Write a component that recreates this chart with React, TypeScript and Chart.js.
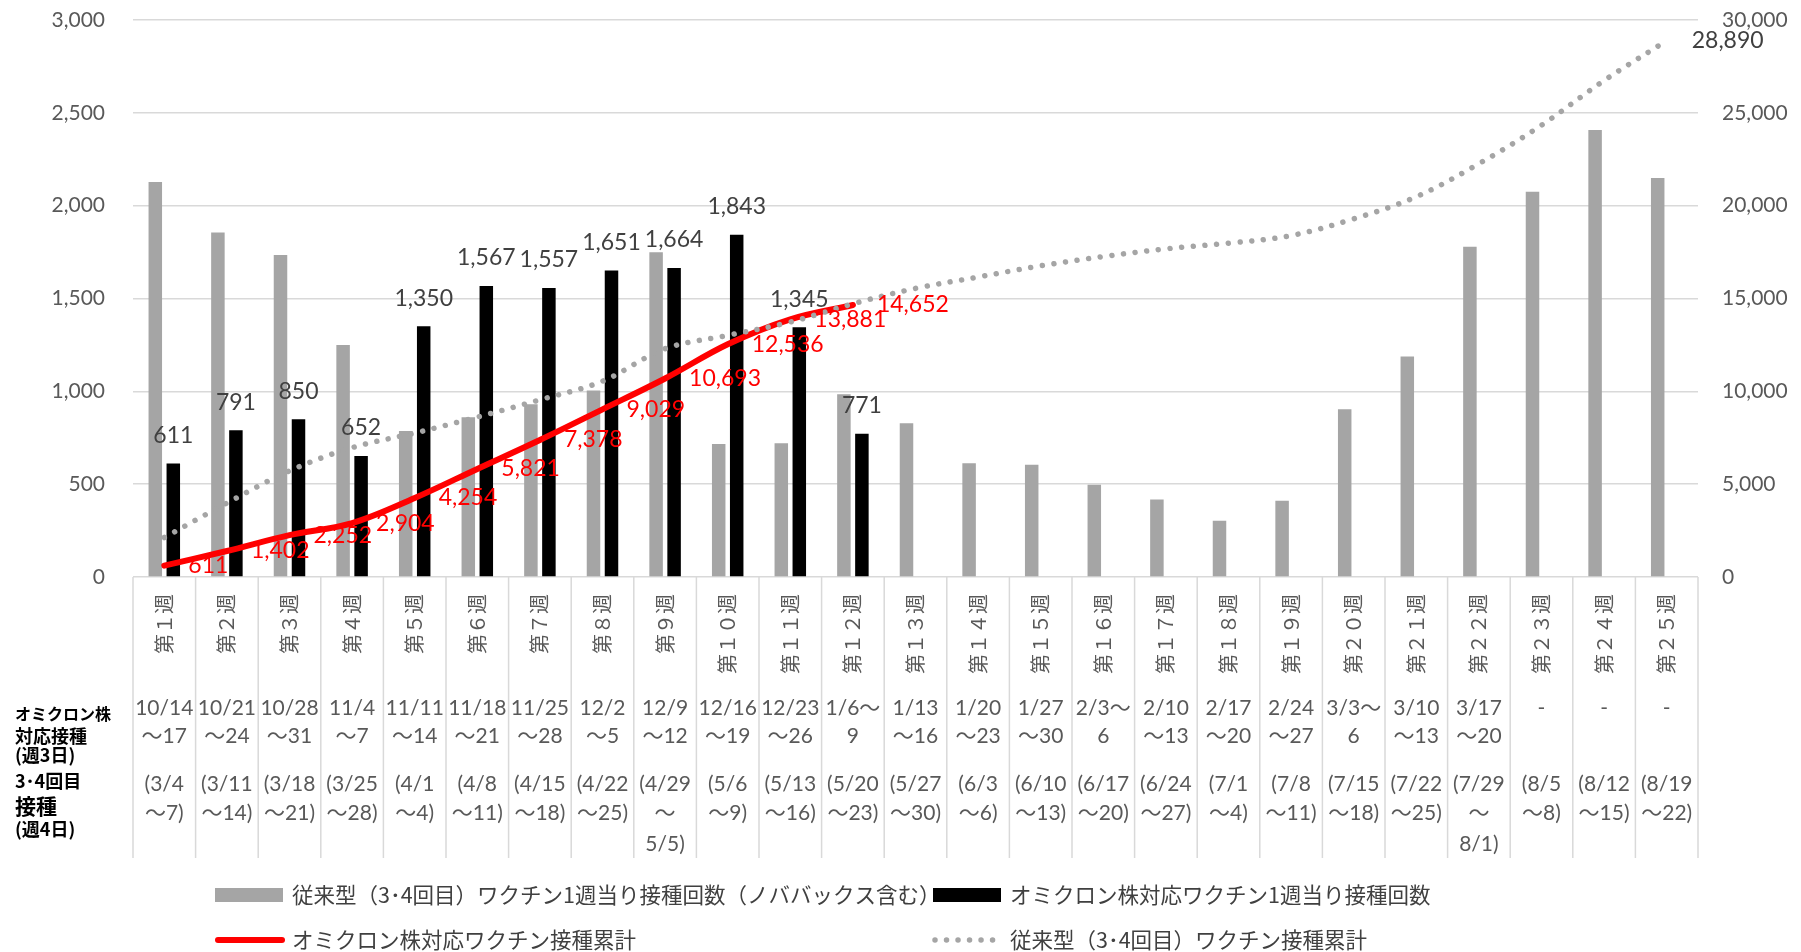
import React, { useEffect, useRef } from 'react';
import { Chart, registerables } from 'chart.js';

Chart.register(...registerables);

// ---------- data ----------
const weekLabels = [
  '第１週', '第２週', '第３週', '第４週', '第５週', '第６週', '第７週', '第８週', '第９週',
  '第１０週', '第１１週', '第１２週', '第１３週', '第１４週', '第１５週', '第１６週', '第１７週',
  '第１８週', '第１９週', '第２０週', '第２１週', '第２２週', '第２３週', '第２４週', '第２５週',
];

const omicronDates: string[][] = [
  ['10/14', '～17'], ['10/21', '～24'], ['10/28', '～31'], ['11/4', '～7'], ['11/11', '～14'],
  ['11/18', '～21'], ['11/25', '～28'], ['12/2', '～5'], ['12/9', '～12'], ['12/16', '～19'],
  ['12/23', '～26'], ['1/6～', '9'], ['1/13', '～16'], ['1/20', '～23'], ['1/27', '～30'],
  ['2/3～', '6'], ['2/10', '～13'], ['2/17', '～20'], ['2/24', '～27'], ['3/3～', '6'],
  ['3/10', '～13'], ['3/17', '～20'], ['-'], ['-'], ['-'],
];

const conventionalDates: string[][] = [
  ['(3/4', '～7)'], ['(3/11', '～14)'], ['(3/18', '～21)'], ['(3/25', '～28)'], ['(4/1', '～4)'],
  ['(4/8', '～11)'], ['(4/15', '～18)'], ['(4/22', '～25)'], ['(4/29', '～', '5/5)'], ['(5/6', '～9)'],
  ['(5/13', '～16)'], ['(5/20', '～23)'], ['(5/27', '～30)'], ['(6/3', '～6)'], ['(6/10', '～13)'],
  ['(6/17', '～20)'], ['(6/24', '～27)'], ['(7/1', '～4)'], ['(7/8', '～11)'], ['(7/15', '～18)'],
  ['(7/22', '～25)'], ['(7/29', '～', '8/1)'], ['(8/5', '～8)'], ['(8/12', '～15)'], ['(8/19', '～22)'],
];

const rowHeaderLines = ['オミクロン株', '対応接種', '(週3日)', '3･4回目', '接種', '(週4日)'];

// weekly doses, conventional (3rd/4th dose) incl. Novavax
const conventionalWeekly = [
  2127, 1856, 1734, 1250, 786, 860, 930, 1004, 1749, 716, 720, 984, 828,
  612, 605, 497, 418, 303, 411, 903, 1187, 1779, 2075, 2407, 2149,
];

// weekly doses, Omicron-adapted vaccine
const omicronWeekly = [
  611, 791, 850, 652, 1350, 1567, 1557, 1651, 1664, 1843, 1345, 771,
  null, null, null, null, null, null, null, null, null, null, null, null, null,
];

// cumulative, Omicron-adapted vaccine
const omicronCumulative = [
  611, 1402, 2252, 2904, 4254, 5821, 7378, 9029, 10693, 12536, 13881, 14652,
  null, null, null, null, null, null, null, null, null, null, null, null, null,
];

// cumulative, conventional vaccine
const conventionalCumulative = [
  2127, 3983, 5717, 6967, 7753, 8613, 9543, 10547, 12296, 13012, 13732, 14716, 15544,
  16156, 16761, 17258, 17676, 17979, 18390, 19293, 20480, 22259, 24334, 26741, 28890,
];

const leftAxisMax = 3000;
const leftAxisStep = 500;
const rightAxisMax = 30000;
const rightAxisStep = 5000;

const legendLabels = [
  '従来型（3･4回目）ワクチン1週当り接種回数（ノババックス含む）',
  'オミクロン株対応ワクチン1週当り接種回数',
  'オミクロン株対応ワクチン接種累計',
  '従来型（3･4回目）ワクチン接種累計',
];

// ---------- styles ----------
const NUM_FONT = "Lato, 'Noto Sans CJK JP', sans-serif";
const CJK_FONT = "'Noto Sans CJK JP', sans-serif";
const GRAY = '#A5A5A5';
const AXIS_TEXT = '#595959';
const LABEL_TEXT = '#404040';
const GRID = '#D9D9D9';
const CLEAR = 'rgba(0,0,0,0)';

const fmt = (v: number) => Number(v).toLocaleString('en-US');

const decorPlugin = {
  id: 'decor',
  afterDatasetsDraw(chart: any) {
    const ctx: CanvasRenderingContext2D = chart.ctx;
    ctx.save();
    ctx.textBaseline = 'middle';
    ctx.font = `23px ${NUM_FONT}`;

    // labels above Omicron weekly bars
    const barMeta = chart.getDatasetMeta(3);
    ctx.fillStyle = LABEL_TEXT;
    ctx.textAlign = 'center';
    omicronWeekly.forEach((v, i) => {
      if (v == null) return;
      const el = barMeta.data[i];
      ctx.fillText(fmt(v), el.x, el.y - 28);
    });

    // labels for Omicron cumulative line
    const redMeta = chart.getDatasetMeta(1);
    ctx.fillStyle = '#FF0000';
    ctx.textAlign = 'left';
    omicronCumulative.forEach((v, i) => {
      if (v == null) return;
      const el = redMeta.data[i];
      ctx.fillText(fmt(v), el.x + 24, el.y);
    });

    // last conventional cumulative label
    const dotMeta = chart.getDatasetMeta(0);
    const last = conventionalCumulative.length - 1;
    const lel = dotMeta.data[last];
    ctx.fillStyle = LABEL_TEXT;
    ctx.fillText(fmt(conventionalCumulative[last]), lel.x + 25, lel.y);
    ctx.restore();
  },
  afterDraw(chart: any) {
    const ctx: CanvasRenderingContext2D = chart.ctx;
    const xs = chart.scales.x;
    const area = chart.chartArea;
    const n = weekLabels.length;
    const cw = xs.getPixelForValue(1) - xs.getPixelForValue(0);
    const base = area.bottom;
    ctx.save();

    // category separators in the axis area
    ctx.strokeStyle = GRID;
    ctx.lineWidth = 1.5;
    for (let i = 0; i <= n; i++) {
      const x = (i < n ? xs.getPixelForValue(i) : xs.getPixelForValue(n - 1) + cw) - cw / 2;
      ctx.beginPath();
      ctx.moveTo(x, base);
      ctx.lineTo(x, base + 281);
      ctx.stroke();
    }

    // date rows
    ctx.fillStyle = AXIS_TEXT;
    ctx.textAlign = 'center';
    ctx.textBaseline = 'middle';
    ctx.font = `21px ${NUM_FONT}`;
    const row1Y = [131, 159];
    const row2Y = [207, 236, 267];
    for (let i = 0; i < n; i++) {
      const x = xs.getPixelForValue(i);
      omicronDates[i].forEach((t, j) => ctx.fillText(t, x, base + row1Y[j]));
      conventionalDates[i].forEach((t, j) => ctx.fillText(t, x, base + row2Y[j]));
    }

    // row headers
    ctx.fillStyle = '#000000';
    ctx.textAlign = 'left';
    const hdrY = [137, 159, 178, 204, 229, 252];
    const hdrSize = [16, 18, 18, 18, 21, 18];
    rowHeaderLines.forEach((t, j) => {
      ctx.font = `bold ${hdrSize[j]}px ${CJK_FONT}`;
      ctx.fillText(t, 15, base + hdrY[j]);
    });

    // legend
    const col1 = 215;
    const col2 = 933;
    const r1 = 895;
    const r2 = 940;
    ctx.fillStyle = GRAY;
    ctx.fillRect(col1, r1 - 7, 68, 14);
    ctx.fillStyle = '#000000';
    ctx.fillRect(col2, r1 - 7, 68, 14);
    ctx.strokeStyle = '#FF0000';
    ctx.lineWidth = 6;
    ctx.lineCap = 'round';
    ctx.beginPath();
    ctx.moveTo(col1 + 3, r2);
    ctx.lineTo(col1 + 67, r2);
    ctx.stroke();
    ctx.strokeStyle = GRAY;
    ctx.lineWidth = 5.5;
    ctx.setLineDash([0.01, 11.5]);
    ctx.beginPath();
    ctx.moveTo(col2 + 2, r2);
    ctx.lineTo(col2 + 66, r2);
    ctx.stroke();
    ctx.setLineDash([]);
    ctx.font = `21.5px ${CJK_FONT}`;
    ctx.fillStyle = LABEL_TEXT;
    ctx.fillText(legendLabels[0], col1 + 77, r1);
    ctx.fillText(legendLabels[1], col2 + 77, r1);
    ctx.fillText(legendLabels[2], col1 + 77, r2);
    ctx.fillText(legendLabels[3], col2 + 77, r2);
    ctx.restore();
  },
};

export default function App() {
  const canvasRef = useRef<HTMLCanvasElement | null>(null);

  useEffect(() => {
    document.body.style.margin = '0';
    document.body.style.overflow = 'hidden';
    const canvas = canvasRef.current;
    if (!canvas) return;
    const chart = new Chart(canvas, {
      type: 'bar',
      data: {
        labels: weekLabels,
        datasets: [
          {
            type: 'line',
            label: legendLabels[3],
            data: conventionalCumulative,
            yAxisID: 'y1',
            borderColor: GRAY,
            borderWidth: 5.5,
            borderDash: [0.01, 11.7],
            borderCapStyle: 'round',
            pointRadius: 0,
            tension: 0.35,
            fill: false,
            order: 0,
          } as any,
          {
            type: 'line',
            label: legendLabels[2],
            data: omicronCumulative,
            yAxisID: 'y1',
            borderColor: '#FF0000',
            borderWidth: 6,
            borderCapStyle: 'round',
            borderJoinStyle: 'round',
            pointRadius: 0,
            tension: 0.35,
            fill: false,
            spanGaps: false,
            order: 1,
          } as any,
          {
            type: 'bar',
            label: legendLabels[0],
            data: conventionalWeekly,
            yAxisID: 'y',
            backgroundColor: GRAY,
            categoryPercentage: 0.575,
            barPercentage: 0.75,
            order: 2,
          } as any,
          {
            type: 'bar',
            label: legendLabels[1],
            data: omicronWeekly,
            yAxisID: 'y',
            backgroundColor: '#000000',
            categoryPercentage: 0.575,
            barPercentage: 0.75,
            order: 3,
          } as any,
        ],
      },
      options: {
        animation: false,
        responsive: true,
        maintainAspectRatio: false,
        layout: { padding: { left: 8, right: 0, top: 20, bottom: 0 } },
        plugins: {
          legend: { display: false },
          tooltip: { enabled: false },
        },
        scales: {
          x: {
            grid: { display: false },
            border: { display: false },
            ticks: {
              autoSkip: false,
              minRotation: 90,
              maxRotation: 90,
              padding: 9,
              color: AXIS_TEXT,
              font: { family: CJK_FONT, size: 20 },
            },
            afterFit: (s: any) => {
              s.height = 375;
            },
          },
          y: {
            position: 'left',
            min: 0,
            max: leftAxisMax,
            ticks: {
              stepSize: leftAxisStep,
              padding: 0,
              color: AXIS_TEXT,
              font: { family: NUM_FONT, size: 21 },
              callback: (v: any) => fmt(v),
            },
            grid: { color: GRID, lineWidth: 1.5, drawTicks: true, tickLength: 28, tickColor: CLEAR },
            border: { display: false },
            afterFit: (s: any) => {
              s.width = 125;
            },
          },
          y1: {
            position: 'right',
            min: 0,
            max: rightAxisMax,
            ticks: {
              stepSize: rightAxisStep,
              padding: 0,
              color: AXIS_TEXT,
              font: { family: NUM_FONT, size: 21 },
              callback: (v: any) => fmt(v),
            },
            grid: { display: true, drawOnChartArea: false, drawTicks: true, tickLength: 24, tickColor: CLEAR },
            border: { display: false },
            afterFit: (s: any) => {
              s.width = 103;
            },
          },
        },
      } as any,
      plugins: [decorPlugin],
    });
    return () => chart.destroy();
  }, []);

  return (
    <div style={{ position: 'relative', width: '1801px', height: '952px' }}>
      <canvas ref={canvasRef} />
    </div>
  );
}
